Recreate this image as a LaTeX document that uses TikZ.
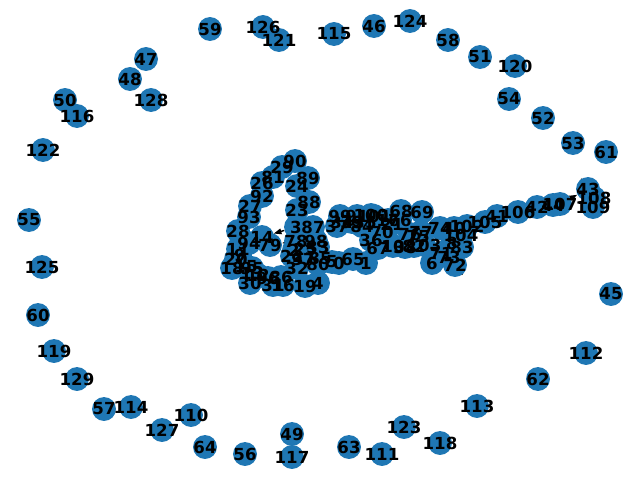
\documentclass[tikz,border=0pt]{standalone}
\usepackage{fontspec}
\setmainfont{DejaVu Sans}
\usetikzlibrary{arrows.meta,backgrounds}
\definecolor{nxblue}{HTML}{1F77B4}
\tikzset{
  vertex/.style={circle,fill=nxblue,minimum size=17pt,inner sep=0pt},
  vlabel/.style={font=\fontsize{11.8}{12}\selectfont\bfseries,inner sep=0pt},
  link/.style={draw=black,line width=1pt,-{Triangle[length=5.5pt,width=4pt]}}
}
% outer ring of lone vertices
\def\ringlist{59/210/29,126/263/27,121/279/40,115/334/34,46/374/26,124/410/21,
  58/448/40,51/480/57,120/515/66,54/509/99,52/543/118,53/573/143,61/606/152,
  45/611/294,112/586/353,62/538/379,113/477/406,118/440/443,123/404/427,
  111/382/454,63/349/447,49/292/434,117/292/457,56/245/454,64/205/447,
  110/191/415,127/162/430,114/131/407,57/104/409,129/77/379,119/54/351,
  60/38/315,125/42/267,55/29/220,122/43/150,50/65/100,116/77/116,48/130/79,
  47/146/59,128/151/100}
% the big component
\def\clusterlist{90/295/161,29/282/167,81/273/177,89/308/178,26/262/183,
  24/297/186,92/262/196,88/309/202,27/250/206,23/297/210,93/249/217,
  28/238/231,14/262/237,79/270/245,94/249/243,11/238/249,9/240/255,
  20/236/259,18/232/268,15/246/267,95/252/268,12/258/275,13/252/273,
  30/250/283,96/268/278,86/281/277,31/273/285,16/283/285,3/296/227,
  87/313/227,78/296/241,98/316/241,25/305/249,2/294/250,33/318/247,
  22/292/256,97/303/259,85/320/258,32/297/268,80/318/264,19/305/286,
  4/318/283,5/332/262,0/339/263,65/353/259,1/366/263,99/340/216,
  91/357/216,100/371/215,101/374/216,34/342/222,37/337/226,39/352/222,
  7/346/221,35/365/222,84/362/226,17/388/220,66/400/220,68/401/211,
  69/422/212,21/392/224,70/382/232,36/371/240,67/378/248,10/393/246,
  38/405/247,82/414/246,103/424/245,76/410/234,75/418/237,77/421/232,
  74/440/228,40/454/228,104/461/235,102/467/226,8/452/243,83/462/247,
  73/449/257,71/441/253,6/432/263,72/455/265,105/485/222,41/497/216,
  106/518/212,42/537/207,44/553/205,107/560/204,43/588/189,108/594/198,
  109/593/207}

\begin{document}
\begin{tikzpicture}[x=0.025cm,y=-0.025cm]
  \useasboundingbox (0,0) rectangle (640,480);
  \foreach \n/\x/\y in \ringlist
    \node[vertex] (v\n) at (\x,\y) {};
  \foreach \n/\x/\y in \clusterlist
    \node[vertex] (v\n) at (\x,\y) {};
  % labels sit above every disc
  \foreach \n/\x/\y in \ringlist
    \node[vlabel] (l\n) at (v\n) {\n};
  \foreach \n/\x/\y in \clusterlist
    \node[vlabel] (l\n) at (v\n) {\n};
  \begin{scope}[on background layer]
    \foreach \a/\b in {90/29,29/81,81/26,26/92,92/27,27/93,93/28,28/94,
      94/11,11/20,20/18,18/15,15/13,13/30,30/96,96/31,31/16,16/19,19/4,
      90/89,89/24,24/88,88/23,23/3,3/87,3/14,78/79,9/79,3/78,78/2,2/97,
      97/32,32/19,87/98,98/33,33/85,85/80,80/5,5/0,0/65,65/1,99/91,
      91/100,100/17,17/68,68/69,69/77,77/74,74/40,40/102,102/105,105/41,
      41/106,106/42,42/44,44/107,107/43,43/108,108/109,70/36,36/67,67/10,
      10/38,38/82,82/103,103/71,71/6,6/72,72/73,73/83,83/104}
      \path (v\a) edge[link] (v\b);
  \end{scope}
\end{tikzpicture}
\end{document}
